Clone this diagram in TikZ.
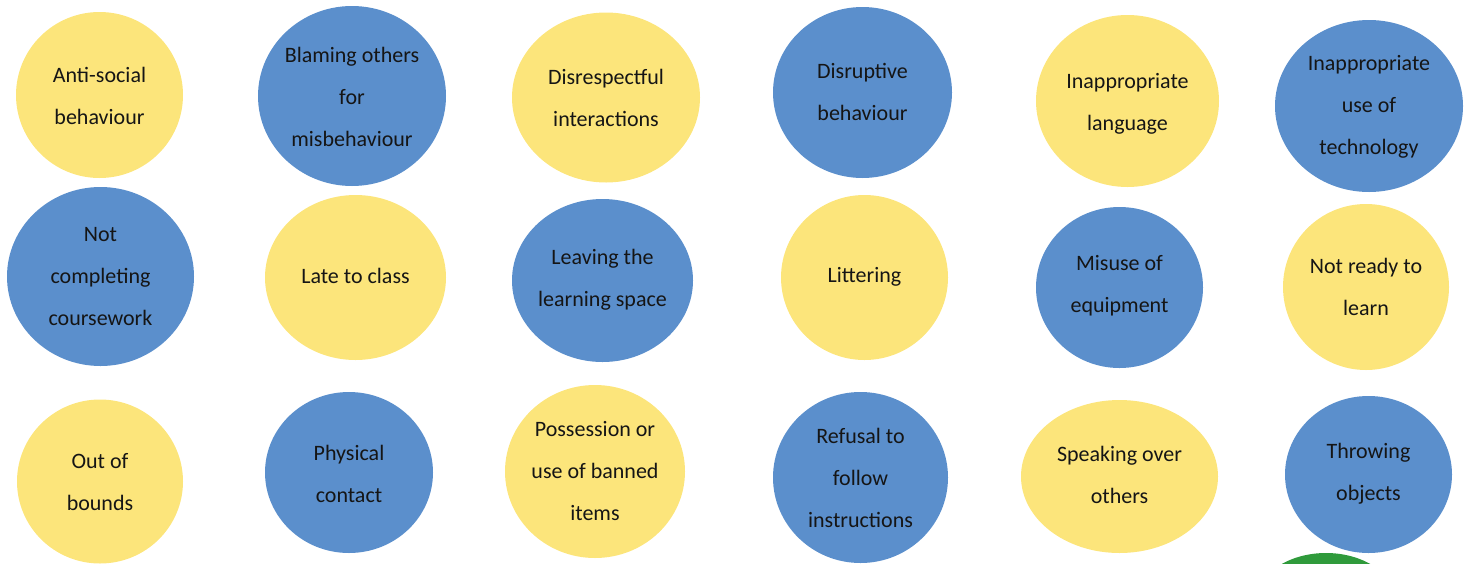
\documentclass[tikz,border=0pt]{standalone}
\usepackage{fontspec}
\setmainfont{Carlito}
\definecolor{yel}{HTML}{FCE57B}
\definecolor{blu}{HTML}{5B8FCC}
\definecolor{grn}{HTML}{2F9A3B}
\definecolor{ink}{HTML}{151515}
\tikzset{
  yb/.style={fill=yel},
  bb/.style={fill=blu},
  lbl/.style={align=center,text=ink,inner sep=0pt,font=\fontsize{11}{21}\selectfont}
}
\begin{document}
\begin{tikzpicture}[x=0.5pt,y=-0.5pt]
\useasboundingbox (0,0) rectangle (1468,563);
\clip (0,0) rectangle (1468,563);
% row 1
\fill[yb] (99.5,95) ellipse (83.5 and 83);
\node[lbl] (n1) at (99.5,96) {Anti-social\\behaviour};
\fill[bb] (352,96) ellipse (94 and 90);
\node[lbl] (n2) at (352,97) {Blaming others\\for\\misbehaviour};
\fill[yb] (606,97.5) ellipse (94 and 85);
\node[lbl] (n3) at (606,98) {Disrespectful\\interactions};
\fill[bb] (862.5,92.5) ellipse (89.5 and 85.5);
\node[lbl] (n4) at (862.5,92) {Disruptive\\behaviour};
\fill[yb] (1127.5,101) ellipse (91.5 and 86);
\node[lbl] (n5) at (1127.5,104) {Inappropriate\\language};
\fill[bb] (1369,106) ellipse (94 and 86);
\node[lbl] (n6) at (1369,107) {Inappropriate\\use of\\technology};
% row 2
\fill[bb] (100.5,276.5) ellipse (93.5 and 89.5);
\node[lbl] (n7) at (100.5,277) {Not\\completing\\coursework};
\fill[yb] (355.5,277.5) ellipse (90.5 and 82.5);
\node[lbl] (n8) at (355.5,276) {Late to class};
\fill[bb] (602.5,280.5) ellipse (90.5 and 81.5);
\node[lbl] (n9) at (602.5,280) {Leaving the\\learning space};
\fill[yb] (864.5,277.5) ellipse (83.5 and 82.5);
\node[lbl] (n10) at (864.5,277) {Littering};
\fill[bb] (1119.5,287.5) ellipse (83.5 and 80.5);
\node[lbl] (n11) at (1119.5,286) {Misuse of\\equipment};
\fill[yb] (1366,287) ellipse (83 and 83);
\node[lbl] (n12) at (1366,286.5) {Not ready to\\learn};
% row 3
\fill[yb] (100,481.5) ellipse (83 and 82);
\node[lbl] (n13) at (100,482) {Out of\\bounds};
\fill[bb] (349,472.5) ellipse (84 and 80.5);
\node[lbl] (n14) at (349,473.5) {Physical\\contact};
\fill[yb] (595,471.5) ellipse (90 and 86.5);
\node[lbl] (n15) at (595,471) {Possession or\\use of banned\\items};
\fill[bb] (860.5,477.5) ellipse (87.5 and 85.5);
\node[lbl] (n16) at (860.5,478) {Refusal to\\follow\\instructions};
\fill[yb] (1119.5,476.5) ellipse (98.5 and 76.5);
\node[lbl] (n17) at (1119.5,474.5) {Speaking over\\others};
\fill[bb] (1368.5,474.5) ellipse (83.5 and 78.5);
\node[lbl] (n18) at (1368.5,473.5) {Throwing\\objects};
% green shape at bottom edge
\fill[grn] (1326,605) ellipse (72 and 52);
\end{tikzpicture}
\end{document}
